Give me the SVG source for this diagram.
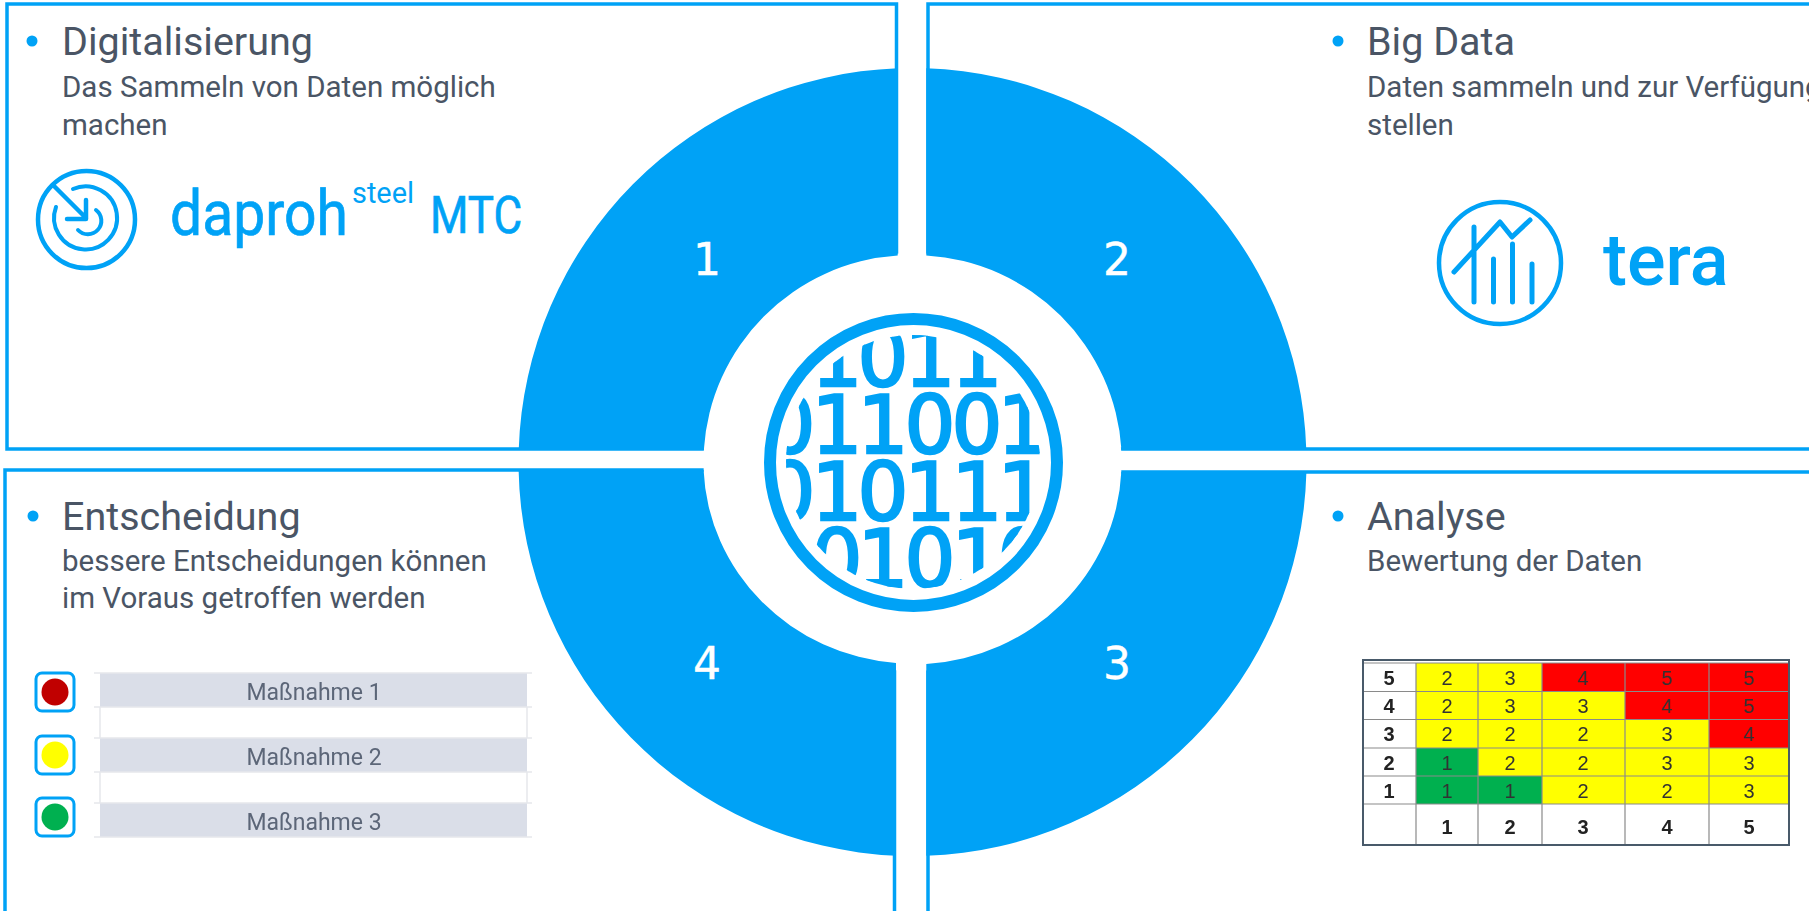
<svg xmlns="http://www.w3.org/2000/svg" width="1809" height="911" viewBox="0 0 1809 911">
<style>
text{font-family:"Roboto","Liberation Sans",sans-serif}
.frame{fill:none;stroke:#00A2F6;stroke-width:3.5}
.q{fill:#00A2F6}
text.num{font-family:"DejaVu Sans","Liberation Sans",sans-serif;font-size:44px;fill:#fff;stroke:#fff;stroke-width:0.4;text-anchor:middle}
.title{font-size:39.5px;fill:#4A5565}
.sub{font-size:29.5px;fill:#4A5565}
.bul{fill:#00A2F6}
.logo{fill:#00A2F6}
.heavy{stroke:#00A2F6;stroke-width:0.7}
.ln{fill:none;stroke:#00A2F6;stroke-linecap:round;stroke-linejoin:round}
text.bin{font-family:"DejaVu Sans","Liberation Sans",sans-serif;font-size:80px;fill:#00A2F6;stroke:#00A2F6;stroke-width:2.5;text-anchor:middle}
.mrow{fill:#DADEE8}
.mline{stroke:#E6E8EC;stroke-width:1.5}
.mtxt{font-size:23px;fill:#5C6678;text-anchor:middle}
.sq{fill:#fff;stroke:#00A2F6;stroke-width:3}
text.tc{font-family:"Liberation Sans",sans-serif;font-size:20px;fill:#333;text-anchor:middle}
text.th{font-family:"Liberation Sans",sans-serif;font-size:20px;font-weight:700;fill:#222;text-anchor:middle}
.g{stroke:#8A8A8A;stroke-width:1.2}
</style>
<defs>
<clipPath id="binclip"><circle cx="913" cy="462" r="127"/></clipPath>
<filter id="soft" x="-2%" y="-2%" width="104%" height="104%"><feGaussianBlur stdDeviation="0.45"/></filter>
</defs>
<rect width="1809" height="911" fill="#fff"/>

<g id="panel-digitalisierung">
<rect class="frame" x="7" y="4" width="889.5" height="445"/>
<circle class="bul" cx="32" cy="41" r="5.5"/>
<text class="title" x="62" y="55">Digitalisierung</text>
<text class="sub" x="62" y="97">Das Sammeln von Daten möglich</text>
<text class="sub" x="62" y="135">machen</text>
<g id="logo-daproh">
<circle class="ln" cx="86.5" cy="219.5" r="48.5" stroke-width="4.5"/>
<path class="ln" stroke-width="4" d="M73 189 A31.5 31.5 0 1 1 56 207"/>
<path class="ln" stroke-width="4" d="M96 210 A13.5 13.5 0 1 1 78 230"/>
<path class="ln" stroke-width="4.5" d="M53 185 L86 218 M86 200 V219 H67"/>
<text x="170" y="235" font-size="63" textLength="178" lengthAdjust="spacingAndGlyphs" class="logo heavy">daproh</text>
<text x="352" y="203" font-size="30" textLength="62" lengthAdjust="spacingAndGlyphs" class="logo">steel</text>
<text x="430" y="233" font-size="52" textLength="92" lengthAdjust="spacingAndGlyphs" class="logo heavy">MTC</text>
</g>
</g>

<g id="panel-big-data">
<rect class="frame" x="928" y="4" width="900" height="445"/>
<circle class="bul" cx="1338" cy="41" r="5.5"/>
<text class="title" x="1367" y="55">Big Data</text>
<text class="sub" x="1367" y="97">Daten sammeln und zur Verfügung</text>
<text class="sub" x="1367" y="135">stellen</text>
<g id="logo-tera">
<circle class="ln" cx="1500" cy="263" r="61" stroke-width="4.5"/>
<path class="ln" stroke-width="5" d="M1474 227 V302 M1493.5 259 V302 M1512.5 244 V302 M1532 264 V302 M1454 272 L1500 222 L1512 237 L1530 220"/>
<text x="1603" y="285" font-size="72" font-weight="500" class="logo">tera</text>
</g>
</g>

<g id="panel-entscheidung">
<rect class="frame" x="5" y="470" width="889.5" height="460"/>
<circle class="bul" cx="33" cy="516" r="5.5"/>
<text class="title" x="62" y="530">Entscheidung</text>
<text class="sub" x="62" y="571">bessere Entscheidungen können</text>
<text class="sub" x="62" y="608">im Voraus getroffen werden</text>
<g id="measures" filter="url(#soft)">
<rect class="mrow" x="100" y="673" width="427" height="34"/>
<rect class="mrow" x="100" y="738" width="427" height="34"/>
<rect class="mrow" x="100" y="803" width="427" height="34"/>
<path class="mline" d="M94 673H532M94 707H532M94 738H532M94 772H532M94 803H532M94 837H532M100 707V738M527 707V738M100 772V803M527 772V803"/>
<text class="mtxt" x="314" y="700">Maßnahme 1</text>
<text class="mtxt" x="314" y="765">Maßnahme 2</text>
<text class="mtxt" x="314" y="830">Maßnahme 3</text>
</g>
<rect class="sq" x="36" y="673" width="38" height="38" rx="6"/>
<rect class="sq" x="36" y="736" width="38" height="38" rx="6"/>
<rect class="sq" x="36" y="798" width="38" height="38" rx="6"/>
<ellipse cx="55" cy="692" rx="13.5" ry="13.5" fill="#C00000"/>
<ellipse cx="55" cy="755" rx="13.5" ry="13.5" fill="#FFFF00"/>
<ellipse cx="55" cy="817" rx="13.5" ry="13.5" fill="#00B050"/>
</g>

<g id="panel-analyse">
<rect class="frame" x="928" y="472" width="900" height="460"/>
<circle class="bul" cx="1338" cy="516" r="5.5"/>
<text class="title" x="1367" y="530">Analyse</text>
<text class="sub" x="1367" y="571">Bewertung der Daten</text>
<g id="risk-matrix" filter="url(#soft)">
<rect x="1363" y="660" width="426" height="185" fill="#fff"/>
<g fill="#FFFF00"><rect x="1416" y="663" width="126" height="113"/><rect x="1542" y="691" width="83" height="113"/><rect x="1625" y="719" width="84" height="85"/><rect x="1709" y="748" width="80" height="56"/><rect x="1478" y="748" width="64" height="28"/></g>
<g fill="#FF0000"><rect x="1542" y="663" width="247" height="28"/><rect x="1625" y="691" width="164" height="28"/><rect x="1709" y="719" width="80" height="29"/></g>
<g fill="#00B050"><rect x="1416" y="748" width="62" height="56"/><rect x="1478" y="776" width="64" height="28"/></g>
<path class="g" d="M1363 663H1789M1363 691.5H1789M1363 719.5H1789M1363 748H1789M1363 776H1789M1363 804H1789M1416 663V845M1478 663V845M1542 663V845M1625 663V845M1709 663V845"/>
<rect x="1363" y="660" width="426" height="185" fill="none" stroke="#4A5A6A" stroke-width="2"/>
<text class="th" x="1389" y="685">5</text><text class="th" x="1389" y="713">4</text><text class="th" x="1389" y="741">3</text><text class="th" x="1389" y="770">2</text><text class="th" x="1389" y="798">1</text><text class="th" x="1447" y="834">1</text><text class="th" x="1510" y="834">2</text><text class="th" x="1583" y="834">3</text><text class="th" x="1667" y="834">4</text><text class="th" x="1749" y="834">5</text>
<text class="tc" x="1447" y="685">2</text><text class="tc" x="1510" y="685">3</text><text class="tc" x="1583" y="685">4</text><text class="tc" x="1667" y="685">5</text><text class="tc" x="1749" y="685">5</text>
<text class="tc" x="1447" y="713">2</text><text class="tc" x="1510" y="713">3</text><text class="tc" x="1583" y="713">3</text><text class="tc" x="1667" y="713">4</text><text class="tc" x="1749" y="713">5</text>
<text class="tc" x="1447" y="741">2</text><text class="tc" x="1510" y="741">2</text><text class="tc" x="1583" y="741">2</text><text class="tc" x="1667" y="741">3</text><text class="tc" x="1749" y="741">4</text>
<text class="tc" x="1447" y="770">1</text><text class="tc" x="1510" y="770">2</text><text class="tc" x="1583" y="770">2</text><text class="tc" x="1667" y="770">3</text><text class="tc" x="1749" y="770">3</text>
<text class="tc" x="1447" y="798">1</text><text class="tc" x="1510" y="798">1</text><text class="tc" x="1583" y="798">2</text><text class="tc" x="1667" y="798">2</text><text class="tc" x="1749" y="798">3</text>
</g>
</g>

<circle id="hub-disc" cx="912.5" cy="462" r="209" fill="#fff"/>

<g id="quadrant-1">
<path class="q" d="M897.7 68.2 V255.5 A208 208 0 0 0 703.8 450 H518.7 A394 394 0 0 1 897.7 68.2Z"/>
<text class="num" x="707" y="275">1</text>
</g>
<g id="quadrant-2">
<path class="q" d="M926.3 68.2 V255.5 A208 208 0 0 1 1121.5 450 H1306.3 A394 394 0 0 0 926.3 68.2Z"/>
<text class="num" x="1117" y="275">2</text>
</g>
<g id="quadrant-3">
<path class="q" d="M926.3 855.8 V664 A209 202 0 0 0 1121.3 472 H1306.4 A394 394 0 0 1 926.3 855.8Z"/>
<text class="num" x="1117" y="679">3</text>
</g>
<g id="quadrant-4">
<path class="q" d="M896 855.7 V663 A209 202 0 0 1 703.6 470 H518.6 A394 394 0 0 0 896 855.7Z"/>
<text class="num" x="707" y="679">4</text>
</g>

<g id="binary-globe">
<circle cx="913.5" cy="462.5" r="143.5" fill="#fff" stroke="#00A2F6" stroke-width="12"/>
<g clip-path="url(#binclip)">
<text class="bin" x="837 883 930 977" y="386">1011</text>
<text class="bin" x="790 837 883 930 977 1023" y="453">011001</text>
<text class="bin" x="790 837 883 930 977 1023" y="520">010111</text>
<text class="bin" x="837 883 930 977 1023" y="587">01010</text>
</g>
</g>
</svg>
